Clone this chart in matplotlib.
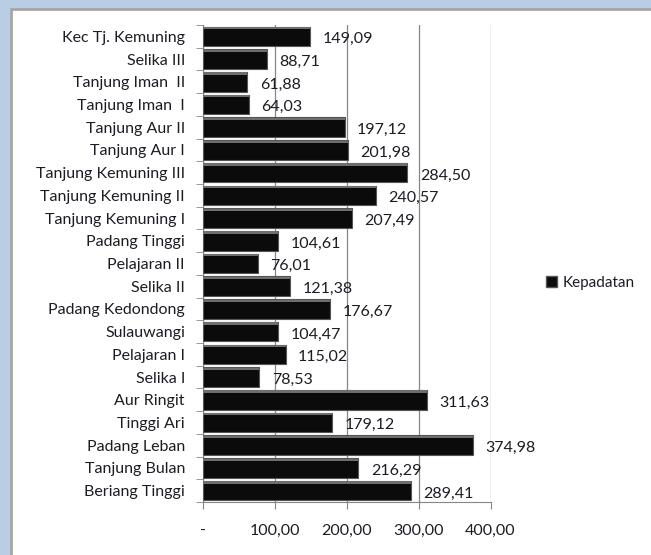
import matplotlib.pyplot as plt
from matplotlib.patches import Rectangle

kecamatan = ['Kec Tj. Kemuning', 'Selika III', 'Tanjung Iman  II', 'Tanjung Iman  I',
             'Tanjung Aur II', 'Tanjung Aur I', 'Tanjung Kemuning III', 'Tanjung Kemuning II',
             'Tanjung Kemuning I', 'Padang Tinggi', 'Pelajaran II', 'Selika II',
             'Padang Kedondong', 'Sulauwangi', 'Pelajaran I', 'Selika I', 'Aur Ringit',
             'Tinggi Ari', 'Padang Leban', 'Tanjung Bulan', 'Beriang Tinggi']
kepadatan = [149.09, 88.71, 61.88, 64.03, 197.12, 201.98, 284.50, 240.57, 207.49,
             104.61, 76.01, 121.38, 176.67, 104.47, 115.02, 78.53, 311.63, 179.12,
             374.98, 216.29, 289.41]
x_ticks = [0, 100, 200, 300, 400]
x_ticklabels = ['-', '100,00', '200,00', '300,00', '400,00']

plt.rcParams['font.family'] = ['Lato', 'DejaVu Sans']
txt = '#1c1c24'
fs = 11.5

fig = plt.figure(figsize=(6.51, 5.55), dpi=100, facecolor='#b9cde5')
# white chart area with grey frame
fig.patches.append(Rectangle((11 / 651, -0.01), 1.0, 1 - 9 / 555 + 0.01, transform=fig.transFigure,
                             facecolor='white', edgecolor='#a6a6a6', linewidth=2, zorder=-5))

ax = fig.add_axes([203 / 651, 1 - 502 / 555, 287.5 / 651, 477 / 555])
ax.set_zorder(2)
ax.set_facecolor('none')

n = len(kecamatan)
ypos = list(range(n))[::-1]
h = 0.86
ax.barh(ypos, kepadatan, height=h, color='#0b0b0b', edgecolor='#555555', linewidth=0.8,
        label='Kepadatan', zorder=3)
# glossy top edge of each bar
ax.barh([y + h / 2 - 0.07 for y in ypos], kepadatan, height=0.1, color='#6e6e6e',
        linewidth=0, zorder=4)

for y, v in zip(ypos, kepadatan):
    ax.annotate('{:.2f}'.format(v).replace('.', ','), (v, y), xytext=(9, -2),
                textcoords='offset points', va='center', ha='left', fontsize=fs, color=txt)

ax.set_xlim(0, 400)
ax.set_ylim(-0.5, n - 0.5)
ax.set_xticks(x_ticks)
ax.set_xticklabels(x_ticklabels, fontsize=fs, color=txt)
ax.set_yticks(ypos)
ax.set_yticklabels(kecamatan, fontsize=fs, color=txt)
ax.set_yticks([i - 0.5 for i in range(n + 1)], minor=True)
ax.tick_params(axis='y', which='major', length=0, pad=13)
ax.tick_params(axis='y', which='minor', length=5, color='#868686')
ax.tick_params(axis='x', length=5, color='#868686', pad=11)
ax.grid(axis='x', color='#868686', linewidth=0.9, zorder=0)
ax.set_axisbelow(True)
for s in ['top', 'right']:
    ax.spines[s].set_visible(False)
for s in ['left', 'bottom']:
    ax.spines[s].set_color('#868686')

fig.legend(handles=[Rectangle((0, 0), 1, 1, facecolor='#0b0b0b', edgecolor='#555555')],
           labels=['Kepadatan'], loc='center left', bbox_to_anchor=(0.818, 0.49),
           frameon=False, handlelength=0.7, handleheight=0.7, handletextpad=0.4,
           fontsize=11, labelcolor=txt)

fig.savefig('out.png', dpi=100, facecolor=fig.get_facecolor())
